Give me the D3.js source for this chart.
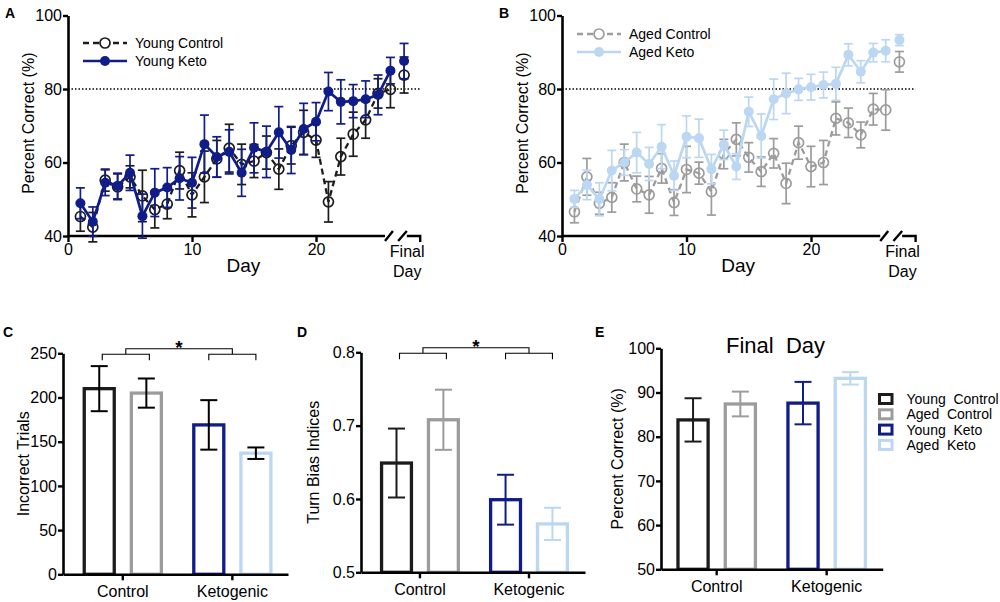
<!DOCTYPE html>
<html>
<head>
<meta charset="utf-8">
<script src="https://cdn.jsdelivr.net/npm/d3@7"></script>
<style>
  body { margin: 0; background: #fff; }
  text { font-family: "Liberation Sans", Arial, sans-serif; fill: #000; }
</style>
</head>
<body>
<script>
'use strict';

// ---- data ----
const days = [1, 2, 3, 4, 5, 6, 7, 8, 9, 10, 11, 12, 13, 14, 15, 16, 17, 18, 19, 20, 21, 22, 23, 24, 25, 26, 'Final'];

const youngControl    = [45.3, 42.4, 55.2, 53.4, 56.1, 50.9, 47.2, 48.7, 57.8, 51.2, 56.1, 61.0, 63.9, 59.5, 60.4, 62.7, 58.2, 64.6, 68.2, 66.1, 49.3, 61.6, 67.7, 71.6, 78.8, 79.9, 83.8];
const youngControlSem = [4, 4, 3, 3.5, 3, 7, 5, 4, 5, 6, 7, 5, 6.5, 5.5, 4.5, 4.5, 5.5, 5, 6, 4.7, 5.5, 5, 6, 5, 4, 5, 4.9];
const youngKeto       = [48.9, 43.9, 54.5, 53.6, 57.2, 45.4, 51.8, 53.2, 55.7, 54.5, 65.0, 61.5, 62.9, 57.2, 64.0, 62.9, 68.2, 63.4, 69.1, 71.1, 79.3, 76.5, 76.7, 77.2, 78.4, 85.0, 87.6];
const youngKetoSem    = [4.2, 4, 3.5, 3.5, 4.8, 6, 6.5, 5.4, 5.9, 6.9, 7.9, 5.5, 6, 6.4, 6.8, 7, 7, 6.4, 7, 5.2, 5.2, 6, 4.5, 5, 5.4, 3.6, 4.8];

const agedControl     = [46.6, 56.1, 48.9, 50.5, 60.0, 52.8, 51.2, 58.4, 49.1, 58.1, 57.1, 52.1, 62.3, 66.3, 61.4, 57.5, 62.5, 54.3, 65.4, 58.9, 60.0, 72.0, 70.8, 67.5, 74.5, 74.3, 87.4];
const agedControlSem  = [3, 5, 3, 4, 5, 3.5, 5, 4, 3.5, 6.3, 3, 6.4, 4, 4.5, 4, 4, 4, 5.5, 4.5, 5.5, 6, 4.5, 4, 3.5, 4.3, 5.5, 2.8];
const agedKeto        = [50.1, 53.9, 50.0, 57.8, 60.0, 62.7, 59.6, 64.3, 56.4, 67.0, 66.6, 58.2, 64.8, 58.9, 73.8, 67.2, 77.2, 78.8, 79.9, 80.5, 81.1, 81.4, 89.3, 84.7, 89.9, 90.4, 93.3];
const agedKetoSem     = [2.3, 4, 4.5, 5.5, 3.5, 5.5, 4.5, 6, 4, 5.7, 5.2, 4, 4, 3.5, 4, 6, 5.5, 5.5, 3, 3.5, 3.5, 4.5, 3, 3, 2.5, 3, 1.5];

const groups = ['Young  Control', 'Aged  Control', 'Young  Keto', 'Aged  Keto'];
const diets = ['Control', 'Ketogenic'];

const incorrectTrials    = [210, 205, 169, 137];
const incorrectTrialsSem = [25.5, 16.5, 28, 6.5];
const turnBias           = [0.649, 0.708, 0.599, 0.566];
const turnBiasSem        = [0.047, 0.041, 0.034, 0.022];
const finalDay           = [83.8, 87.4, 87.6, 93.2];
const finalDaySem        = [4.9, 2.8, 4.8, 1.4];

const lineTicksY = [40, 60, 80, 100];
const lineTicksX = [0, 10, 20];

const colors = ['#1c1c1c', '#9c9c9c', '#101c88', '#bcd7f2'];
const FONT = '"Liberation Sans", Arial, sans-serif';

const svg = d3.select('body').append('svg')
  .attr('width', 1000)
  .attr('height', 602);

const dayPos = d => d === 'Final' ? 27.1 : d;

function styleAxis(g) {
  g.select('.domain').attr('stroke', '#000').attr('stroke-width', 2.6);
  g.selectAll('.tick line').attr('stroke', '#000').attr('stroke-width', 2.4);
  g.selectAll('.tick text').attr('fill', '#000')
    .style('font-size', '16px').style('font-family', FONT);
}

function panelLetter(x, y, s) {
  svg.append('text').attr('x', x).attr('y', y)
    .style('font-size', '14px').style('font-weight', 'bold').text(s);
}

// ---- line panels (A, B) ----
function drawSeries(g, x, y, vals, sems, col, dashed) {
  const pts = days.map((d, i) => ({ p: dayPos(d), v: vals[i], e: sems[i] }));
  const eb = g.append('g').attr('stroke', col).attr('stroke-width', 1.7);
  eb.selectAll('line.v').data(pts).join('line')
    .attr('x1', d => x(d.p)).attr('x2', d => x(d.p))
    .attr('y1', d => y(d.v - d.e)).attr('y2', d => y(d.v + d.e));
  eb.selectAll('line.t').data(pts).join('line')
    .attr('x1', d => x(d.p) - 4.5).attr('x2', d => x(d.p) + 4.5)
    .attr('y1', d => y(d.v + d.e)).attr('y2', d => y(d.v + d.e));
  eb.selectAll('line.b').data(pts).join('line')
    .attr('x1', d => x(d.p) - 4.5).attr('x2', d => x(d.p) + 4.5)
    .attr('y1', d => y(d.v - d.e)).attr('y2', d => y(d.v - d.e));

  // the final day point is not joined to the daily curve
  const line = d3.line().x(d => x(d.p)).y(d => y(d.v));
  g.append('path').datum(pts.filter(d => d.p <= 26))
    .attr('d', line)
    .attr('fill', 'none')
    .attr('stroke', col)
    .attr('stroke-width', dashed ? 2.3 : 2.7)
    .attr('stroke-dasharray', dashed ? '6,4' : null);

  g.selectAll(null).data(pts).join('circle')
    .attr('cx', d => x(d.p)).attr('cy', d => y(d.v)).attr('r', 5)
    .attr('fill', dashed ? 'none' : col)
    .attr('stroke', col).attr('stroke-width', dashed ? 1.7 : 0);
}

function linePanel(o) {
  const x = d3.scaleLinear().domain([0, 28.4]).range([o.x0, o.x1]);
  const y = d3.scaleLinear().domain([40, 100]).range([236, 15.5]);
  const g = svg.append('g');

  // 80 % criterion
  g.append('line')
    .attr('x1', x(0)).attr('x2', x(28.4))
    .attr('y1', y(80)).attr('y2', y(80))
    .attr('stroke', '#000').attr('stroke-width', 1.3)
    .attr('stroke-dasharray', '1.5,2');

  const ya = g.append('g')
    .attr('transform', `translate(${x(0)},0)`)
    .call(d3.axisLeft(y).tickValues(lineTicksY).tickSize(5).tickPadding(1).tickSizeOuter(0));
  styleAxis(ya);

  const base = y(40);
  const xa = g.append('g')
    .attr('transform', `translate(0,${base})`)
    .call(d3.axisBottom(x).tickValues(lineTicksX).tickSize(6).tickPadding(2));
  xa.select('.domain').remove();
  styleAxis(xa);

  // broken x axis before the final day
  g.append('path')
    .attr('d', `M${x(0)},${base}H${x(25.56)}` +
      `M${x(25.56)},${base + 5}L${x(26.2)},${base - 5}` +
      `M${x(26.62)},${base + 5}L${x(27.32)},${base - 5}` +
      `M${x(27.32)},${base}H${x(28.4)}V${base + 6}`)
    .attr('fill', 'none').attr('stroke', '#000').attr('stroke-width', 2.4);

  g.append('text').attr('x', x(27.35)).attr('y', base + 21)
    .attr('text-anchor', 'middle').style('font-size', '16px').text('Final');
  g.append('text').attr('x', x(27.35)).attr('y', base + 41)
    .attr('text-anchor', 'middle').style('font-size', '16px').text('Day');
  g.append('text').attr('x', x(14.15)).attr('y', base + 36)
    .attr('text-anchor', 'middle').style('font-size', '19px').text('Day');

  g.append('text')
    .attr('transform', `translate(${x(0) - 39.7},${y(70.7)}) rotate(-90)`)
    .attr('dy', '0.35em').attr('text-anchor', 'middle')
    .style('font-size', '16px').text('Percent Correct (%)');

  drawSeries(g, x, y, o.control, o.controlSem, o.cColor, true);
  drawSeries(g, x, y, o.keto, o.ketoSem, o.kColor, false);

  // legend
  const lg = g.append('g');
  o.legend.forEach((name, i) => {
    const ly = o.ly + i * 18;
    const dashed = i === 0;
    const col = dashed ? o.cColor : o.kColor;
    lg.append('line').attr('x1', o.lx).attr('x2', o.lx + 44)
      .attr('y1', ly).attr('y2', ly)
      .attr('stroke', col).attr('stroke-width', dashed ? 2.3 : 2.7)
      .attr('stroke-dasharray', dashed ? '6,4' : null);
    lg.append('circle').attr('cx', o.lx + 22).attr('cy', ly).attr('r', 5)
      .attr('fill', dashed ? '#fff' : col)
      .attr('stroke', col).attr('stroke-width', dashed ? 1.7 : 0);
    lg.append('text').attr('x', o.lx + 52).attr('y', ly).attr('dy', '0.35em')
      .style('font-size', '14px').text(name);
  });
}

linePanel({
  x0: 68, x1: 420.2,
  control: youngControl, controlSem: youngControlSem,
  keto: youngKeto, ketoSem: youngKetoSem,
  cColor: colors[0], kColor: colors[2],
  legend: ['Young Control', 'Young Keto'], lx: 83, ly: 43
});
linePanel({
  x0: 562, x1: 915.6,
  control: agedControl, controlSem: agedControlSem,
  keto: agedKeto, ketoSem: agedKetoSem,
  cColor: colors[1], kColor: colors[3],
  legend: ['Aged Control', 'Aged Keto'], lx: 577, ly: 34
});

// ---- bar panels (C, D, E) ----
function barPanel(o) {
  const g = svg.append('g');
  const y = d3.scaleLinear().domain(o.domain).range([o.yBot, o.yTop]);
  const xc = d3.scaleBand().domain(diets).range([o.x0, o.x1])
    .paddingInner(0).paddingOuter(o.pad).align(o.align);
  const step = xc.step();
  const xi = d3.scaleBand().domain([0, 1]).range([-step * 0.43, step * 0.43]);
  const bw = step * 0.274;

  const bars = groups.map((name, i) => ({
    name, v: o.values[i], e: o.sems[i],
    cx: xc(diets[Math.floor(i / 2)]) + step / 2 + xi(i % 2) + xi.bandwidth() / 2,
    col: colors[i], ecol: o.errBlack ? '#000' : colors[i]
  }));

  g.selectAll('rect').data(bars).join('rect')
    .attr('x', d => d.cx - bw / 2).attr('width', bw)
    .attr('y', d => y(d.v)).attr('height', d => y(o.domain[0]) - y(d.v))
    .attr('fill', '#fff').attr('stroke', d => d.col).attr('stroke-width', 3.3);

  const eb = g.append('g').attr('stroke-width', 2);
  eb.selectAll('line.v').data(bars).join('line')
    .attr('stroke', d => d.ecol)
    .attr('x1', d => d.cx).attr('x2', d => d.cx)
    .attr('y1', d => y(d.v - d.e)).attr('y2', d => y(d.v + d.e));
  eb.selectAll('line.t').data(bars).join('line')
    .attr('stroke', d => d.ecol)
    .attr('x1', d => d.cx - 8.5).attr('x2', d => d.cx + 8.5)
    .attr('y1', d => y(d.v + d.e)).attr('y2', d => y(d.v + d.e));
  eb.selectAll('line.b').data(bars).join('line')
    .attr('stroke', d => d.ecol)
    .attr('x1', d => d.cx - 8.5).attr('x2', d => d.cx + 8.5)
    .attr('y1', d => y(d.v - d.e)).attr('y2', d => y(d.v - d.e));

  const ya = g.append('g').attr('transform', `translate(${o.x0},0)`)
    .call(d3.axisLeft(y).tickValues(o.ticks).tickFormat(o.fmt)
      .tickSize(5).tickPadding(1).tickSizeOuter(0));
  styleAxis(ya);
  const xa = g.append('g').attr('transform', `translate(0,${o.yBot})`)
    .call(d3.axisBottom(xc).tickSize(6).tickPadding(5).tickSizeOuter(0));
  styleAxis(xa);

  g.append('text')
    .attr('transform', `translate(${o.titleX},${(o.yTop + o.yBot) / 2}) rotate(-90)`)
    .attr('dy', '0.35em').attr('text-anchor', 'middle')
    .style('font-size', '16px').text(o.yTitle);

  if (o.bracket) {
    const t = o.yTop;
    const l0 = bars[0].cx + 3, l1 = bars[1].cx + 3;
    const r0 = bars[2].cx, r1 = bars[3].cx;
    const lm = (l0 + l1) / 2, rm = (r0 + r1) / 2;
    g.append('path')
      .attr('d', `M${l0},${t + 7}V${t + 1}H${l1}V${t + 7}` +
        `M${r0},${t + 7}V${t + 1}H${r1}V${t + 7}` +
        `M${lm},${t + 1}V${t - 4.5}H${rm}V${t + 1}`)
      .attr('fill', 'none').attr('stroke', '#000').attr('stroke-width', 1.1);
    g.append('text').attr('x', (lm + rm) / 2).attr('y', t + 0.5)
      .attr('text-anchor', 'middle')
      .style('font-size', '19px').style('font-weight', 'bold').text('*');
  }
  return { g, bars, y };
}

barPanel({
  x0: 63, x1: 288, yTop: 353.3, yBot: 574.3, pad: 0.027, align: 0.85,
  domain: [0, 250], ticks: [0, 50, 100, 150, 200, 250], fmt: d3.format('d'),
  values: incorrectTrials, sems: incorrectTrialsSem, errBlack: true,
  yTitle: 'Incorrect Trials', titleX: 23, bracket: true
});
barPanel({
  x0: 361, x1: 585, yTop: 352.3, yBot: 572.3, pad: 0.027, align: 0.75,
  domain: [0.5, 0.8], ticks: [0.5, 0.6, 0.7, 0.8], fmt: d3.format('.1f'),
  values: turnBias, sems: turnBiasSem, errBlack: false,
  yTitle: 'Turn Bias Indices', titleX: 313, bracket: true
});
const e = barPanel({
  x0: 661, x1: 882.7, yTop: 348.3, yBot: 569.3, pad: 0.008, align: 0.4,
  domain: [50, 100], ticks: [50, 60, 70, 80, 90, 100], fmt: d3.format('d'),
  values: finalDay, sems: finalDaySem, errBlack: false,
  yTitle: 'Percent Correct (%)', titleX: 617, bracket: false
});

e.g.append('text').attr('x', 775.5).attr('y', 352.5).attr('text-anchor', 'middle')
  .style('font-size', '22px').attr('xml:space', 'preserve').style('white-space', 'pre')
  .text('Final  Day');

const leg = e.g.append('g');
groups.forEach((name, i) => {
  const ly = 399 + i * 15.3;
  leg.append('rect').attr('x', 879.5).attr('y', ly - 4.5).attr('width', 12.5).attr('height', 9)
    .attr('fill', '#fff').attr('stroke', colors[i]).attr('stroke-width', 3);
  leg.append('text').attr('x', 906.5).attr('y', ly).attr('dy', '0.35em')
    .style('font-size', '14px').style('white-space', 'pre').text(name);
});

panelLetter(5, 18.3, 'A');
panelLetter(499, 18.3, 'B');
panelLetter(3, 337, 'C');
panelLetter(297, 337, 'D');
panelLetter(595, 337, 'E');
</script>
</body>
</html>
